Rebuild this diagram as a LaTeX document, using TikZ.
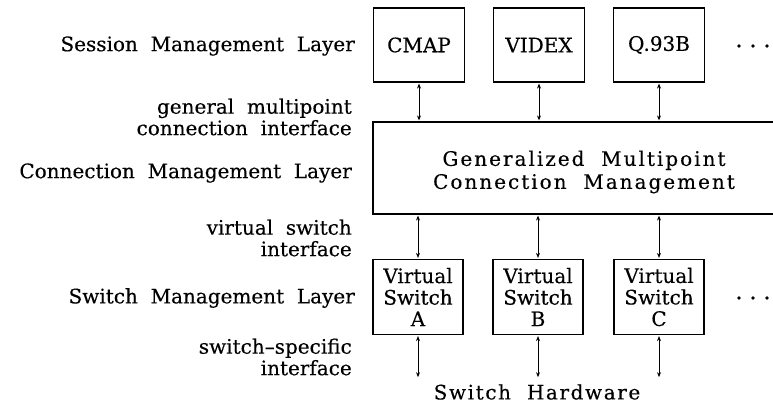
\documentclass[tikz,border=0pt]{standalone}
\usepackage{fontspec}
\setmainfont{DejaVu Serif}[FakeBold=0.3]
\newfontfamily\widefont{DejaVu Serif}[FakeBold=0.3,LetterSpace=10]
\newfontfamily\hwfont{DejaVu Serif}[FakeBold=0.3,LetterSpace=8]
\usetikzlibrary{arrows.meta}
\begin{document}
\begin{tikzpicture}[x=1pt,y=-1pt,
  every node/.style={font=\fontsize{20}{21.5}\selectfont, inner sep=0pt},
  box/.style={draw, line width=1.6pt, minimum height=74pt, minimum width=91pt, align=center},
  swbox/.style={draw, line width=1.6pt, minimum height=75pt, minimum width=90pt, align=center},
  lbl/.style={anchor=east, align=right},
  link/.style={line width=1pt, {Stealth[length=5pt,width=4pt]}-{Stealth[length=5pt,width=4pt]}, shorten <=0.8pt, shorten >=0.8pt},
  dot/.style={fill, circle, minimum size=3.6pt}
]
\useasboundingbox (0,0) rectangle (773,406);
% top boxes
\node[box] (cmap) at (419,45) {CMAP};
\node[box] (videx) at (539,45) {VIDEX};
\node[box] (q93b) at (659,45) {Q.93B};
\node[dot] (d1) at (739,46) {};
\node[dot] (d2) at (753,46) {};
\node[dot] (d3) at (767,46) {};
% big box (open to the right)
\node[draw, line width=1.6pt, minimum height=92pt, minimum width=420pt] (gmcm) at (583,168) {};
\node[align=center, font=\widefont\fontsize{20}{23}\selectfont] (gmcmtext) at (584,172) {Generalized\ \ Multipoint\\Connection\ \ Management};
% switch boxes
\node[swbox] (vsa) at (418,297) {Virtual\\Switch\\A};
\node[swbox] (vsb) at (538,297) {Virtual\\Switch\\B};
\node[swbox] (vsc) at (659,297) {Virtual\\Switch\\C};
\node[dot] (e1) at (739,298) {};
\node[dot] (e2) at (753,298) {};
\node[dot] (e3) at (767,298) {};
% hardware
\node[font=\hwfont\fontsize{20}{21.5}\selectfont] (hw) at (537,392) {Switch\ \ Hardware};
\coordinate (ha) at (418,378);
\coordinate (hb) at (538,378);
\coordinate (hc) at (659,378);
% connectors
\draw[link] (cmap.south) -- (cmap.south |- gmcm.north);
\draw[link] (videx.south) -- (videx.south |- gmcm.north);
\draw[link] (q93b.south) -- (q93b.south |- gmcm.north);
\draw[link] (vsa.north |- gmcm.south) -- (vsa.north);
\draw[link] (vsb.north |- gmcm.south) -- (vsb.north);
\draw[link] (vsc.north |- gmcm.south) -- (vsc.north);
\draw[link] (vsa.south) -- (ha);
\draw[link] (vsb.south) -- (hb);
\draw[link] (vsc.south) -- (hc);
% left labels
\node[lbl] (l1) at (355,46) {Session\ \ Management\ \ Layer};
\node[lbl] (l2) at (352,117) {general\ \ multipoint\\connection\ \ interface};
\node[lbl] (l3) at (352,173) {Connection\ \ Management\ \ Layer};
\node[lbl] (l4) at (352,238) {virtual\ \ switch\\interface};
\node[lbl] (l5) at (355,298) {Switch\ \ Management\ \ Layer};
\node[lbl] (l6) at (352,357) {switch--specific\\interface};
\end{tikzpicture}
\end{document}
